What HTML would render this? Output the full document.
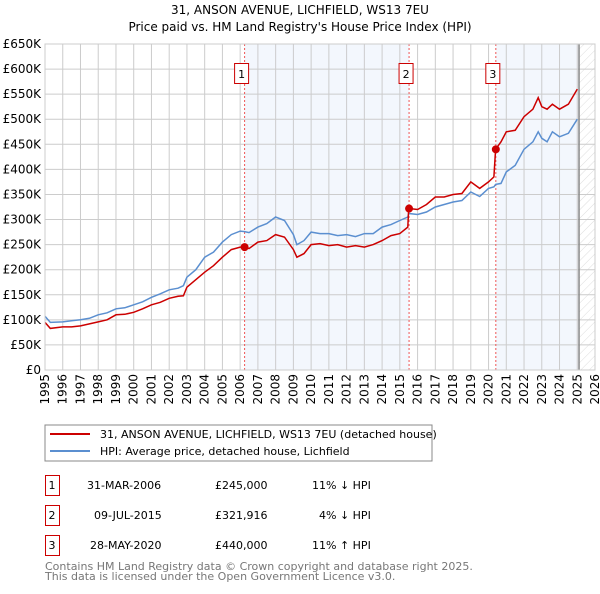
<!DOCTYPE html>
<html><head><meta charset="utf-8"><style>
body{margin:0;background:#fff;font-family:"DejaVu Sans","Liberation Sans",sans-serif;}
svg text{font-family:"DejaVu Sans","Liberation Sans",sans-serif;}
</style></head><body>
<svg id="c" width="600" height="590" xmlns="http://www.w3.org/2000/svg">
<defs><pattern id="hatch" width="6" height="6" patternUnits="userSpaceOnUse" patternTransform="rotate(45)"><line x1="0" y1="0" x2="0" y2="6" stroke="#ddd" stroke-width="1"/></pattern></defs>
<text x="300" y="14" text-anchor="middle" font-size="12">31, ANSON AVENUE, LICHFIELD, WS13 7EU</text>
<text x="300" y="31" text-anchor="middle" font-size="12">Price paid vs. HM Land Registry's House Price Index (HPI)</text>
<g id="plot"></g>
<rect x="45" y="425" width="387" height="36" fill="#fff" stroke="#888"/>
<line x1="50" y1="434" x2="90" y2="434" stroke="#cc0000" stroke-width="2"/>
<text x="100" y="438" font-size="11">31, ANSON AVENUE, LICHFIELD, WS13 7EU (detached house)</text>
<line x1="50" y1="451" x2="90" y2="451" stroke="#5b8fd0" stroke-width="2"/>
<text x="100" y="455" font-size="11">HPI: Average price, detached house, Lichfield</text>
<g font-size="11">
<rect x="45.5" y="475.5" width="14" height="20" fill="none" stroke="#c00"/><text x="52" y="489" text-anchor="middle">1</text>
<text x="87" y="489">31-MAR-2006</text><text x="215" y="489">£245,000</text><text x="312" y="489">11% ↓ HPI</text>
<rect x="45.5" y="505.5" width="14" height="20" fill="none" stroke="#c00"/><text x="52" y="519" text-anchor="middle">2</text>
<text x="94" y="519">09-JUL-2015</text><text x="215" y="519">£321,916</text><text x="319" y="519">4% ↓ HPI</text>
<rect x="45.5" y="535.5" width="14" height="20" fill="none" stroke="#c00"/><text x="52" y="549" text-anchor="middle">3</text>
<text x="90" y="549">28-MAY-2020</text><text x="215" y="549">£440,000</text><text x="312" y="549">11% ↑ HPI</text>
</g>
<text x="45" y="570" font-size="11" fill="#777">Contains HM Land Registry data © Crown copyright and database right 2025.</text>
<text x="45" y="580" font-size="11" fill="#777">This data is licensed under the Open Government Licence v3.0.</text>
</svg>
<script>
const dates=[1995,1995.3,1996,1996.5,1997,1997.5,1998,1998.5,1999,1999.5,2000,2000.5,2001,2001.5,2002,2002.5,2002.8,2003,2003.5,2004,2004.5,2005,2005.5,2006,2006.25,2006.5,2007,2007.5,2008,2008.5,2009,2009.2,2009.6,2010,2010.5,2011,2011.5,2012,2012.5,2013,2013.5,2014,2014.5,2015,2015.45,2015.5,2016,2016.5,2017,2017.5,2018,2018.5,2019,2019.5,2020,2020.3,2020.4,2020.7,2021,2021.5,2022,2022.5,2022.8,2023,2023.3,2023.6,2024,2024.5,2025];
const hpi=[107,95,96,98,100,103,110,114,122,124,130,136,145,152,160,163,168,185,200,225,235,255,270,277,276,274,285,292,305,298,270,250,258,275,272,272,268,270,266,272,272,285,290,298,305,312,310,315,325,330,335,338,355,346,362,365,370,372,395,408,440,455,475,462,455,475,465,472,500];
const price=[95,83,86,86,88,92,96,100,110,111,115,122,130,135,143,147,148,165,180,195,208,225,240,245,245,242,255,258,270,265,240,225,232,250,252,248,250,245,248,245,250,258,268,272,285,322,320,330,345,345,350,352,375,362,375,385,440,455,475,478,505,520,543,525,520,530,520,530,560];
const yTicks=[0,50,100,150,200,250,300,350,400,450,500,550,600,650];
const xYears=[1995,1996,1997,1998,1999,2000,2001,2002,2003,2004,2005,2006,2007,2008,2009,2010,2011,2012,2013,2014,2015,2016,2017,2018,2019,2020,2021,2022,2023,2024,2025,2026];
const sales=[[2006.25,245],[2015.52,321.9],[2020.41,440]];
const x0=45,x1=595,yb=370,yt=44;
const X=d=>x0+(d-1995)/(2026-1995)*(x1-x0);
const Y=v=>yb-v/650*(yb-yt);
const g=document.getElementById('plot');const NS='http://www.w3.org/2000/svg';
function el(t,a,name){const e=document.createElementNS(NS,t);for(const k in a)e.setAttribute(k,a[k]);


g.appendChild(e);return e;}
el('rect',{x:X(sales[0][0]),y:yt,width:X(sales[1][0])-X(sales[0][0]),height:yb-yt,fill:'#eef3fc',opacity:0.7},'shade-period-1');
el('rect',{x:X(sales[2][0]),y:yt,width:X(2025.1)-X(sales[2][0]),height:yb-yt,fill:'#eef3fc',opacity:0.7},'shade-period-3');
el('rect',{x:X(2025.1),y:yt,width:x1-X(2025.1),height:yb-yt,fill:'url(#hatch)'},'future-hatch');
yTicks.forEach(v=>{el('line',{x1:x0,x2:x1,y1:Y(v),y2:Y(v),stroke:'#ccc'},'y-gridline');
const t=el('text',{x:x0-4,y:Y(v)+4,'text-anchor':'end','font-size':12},'y-tick-label');t.textContent=v===0?'£0':'£'+v+'K';});
xYears.forEach(d=>{el('line',{x1:X(d),x2:X(d),y1:yt,y2:yb,stroke:'#ccc'},'x-gridline');
const xx=X(d)+4,yy=yb+4;
const t=el('text',{x:xx,y:yy,'text-anchor':'end','font-size':12,transform:'rotate(-90 '+xx+' '+yy+')'},'x-tick-label');t.textContent=d;});
el('line',{x1:X(2025.1),x2:X(2025.1),y1:yt,y2:yb,stroke:'#888','stroke-width':1.5},'data-end-line');
sales.forEach((s,i)=>{el('line',{x1:X(s[0]),x2:X(s[0]),y1:yt,y2:yb,stroke:'#e55','stroke-dasharray':'2,2'},'sale-marker-line');
el('rect',{x:X(s[0])-3-7,y:63.5,width:14,height:20,fill:'#fff',stroke:'#c00'},'sale-label-box');
const t=el('text',{x:X(s[0])-3,y:78,'text-anchor':'middle','font-size':11},'sale-label');t.textContent=i+1;});
const pts=a=>dates.map((d,i)=>X(d).toFixed(1)+','+Y(a[i]).toFixed(1)).join(' ');
el('polyline',{points:pts(hpi),fill:'none',stroke:'#5b8fd0','stroke-width':1.5},'hpi-line');
el('polyline',{points:pts(price),fill:'none',stroke:'#cc0000','stroke-width':1.5},'price-line');
sales.forEach(s=>el('circle',{cx:X(s[0]),cy:Y(s[1]),r:4,fill:'#cc0000'},'sale-point'));
el('rect',{x:x0,y:yt,width:x1-x0,height:yb-yt,fill:'none',stroke:'#ccc'},'plot-frame');
</script>
</body></html>
